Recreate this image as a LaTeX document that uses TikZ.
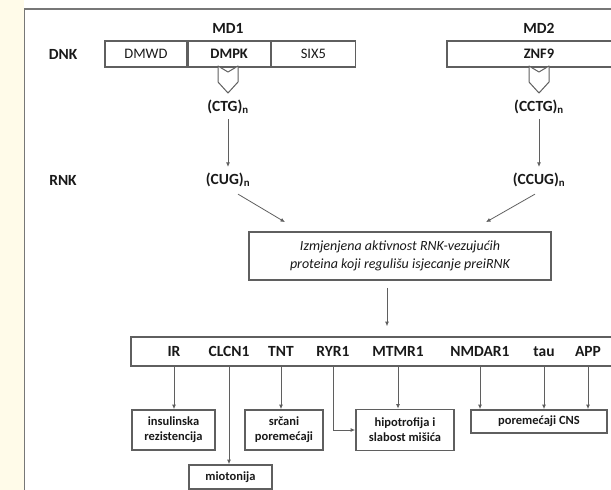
\documentclass[tikz,border=0pt]{standalone}
\usepackage{fontspec}
\setmainfont{Carlito}
\usetikzlibrary{arrows.meta, positioning, calc}
\definecolor{cLine}{RGB}{95,95,95}
\definecolor{cText}{RGB}{25,25,25}
\definecolor{cPaper}{RGB}{255,251,233}
\tikzset{
	lbl/.style     ={font=\fontsize{15.5}{18}\selectfont\bfseries, text=cText, inner sep=1pt},
	gene/.style    ={lbl, text height=11pt, text depth=3pt},
	genbox/.style  ={rectangle, draw=cLine, line width=1.2pt, minimum height=26pt, inner sep=0pt, text=cText, font=\fontsize{14.5}{17}\selectfont},
	mainbox/.style ={rectangle, draw=cLine, line width=1.8pt, minimum width=302pt, minimum height=48pt, align=center, text=cText, font=\fontsize{14}{18}\selectfont\itshape},
	effect/.style  ={rectangle, draw=cLine, line width=1.8pt, inner sep=0pt, align=center, text=cText, font=\fontsize{12.5}{15}\selectfont\bfseries},
	chev/.style    ={draw=cLine, fill=white, line width=1pt, line join=round},
	arr/.style     ={-{Latex[length=4.5pt,width=4pt]}, cLine, line width=0.8pt},
}

\begin{document}
\begin{tikzpicture}[x=1pt, y=-1pt]
	\useasboundingbox (0,0) rectangle (611,490);
	\clip (0,0) rectangle (611,490);
	\fill[cPaper] (0,0) rectangle (24,490);
	\draw[cLine!85, line width=1.3pt] (24.5,9) rectangle (660,540);
	% DNK row
	\node[lbl] (md1) at (228,28) {MD1};
	\node[lbl] (md2) at (539,28) {MD2};
	\node[lbl] (dnk) at (63,54) {DNK};
	\node[genbox, minimum width=82pt] (dmwd) at (146,54) {DMWD};
	\node[genbox, minimum width=82pt, font=\fontsize{14.5}{17}\selectfont\bfseries, right=0pt of dmwd] (dmpk) {DMPK};
	\node[genbox, minimum width=84pt, right=0pt of dmpk] (six5) {SIX5};
	\node[genbox, minimum width=184pt, font=\fontsize{14.5}{17}\selectfont\bfseries] (znf9) at (539,54) {ZNF9};
	\foreach \cx in {228,539}
		\draw[chev] (\cx-10,66) -- (\cx,72) -- (\cx+10,66) -- (\cx+10,82) -- (\cx,93) -- (\cx-10,82) -- cycle;
	\node[lbl] (ctg) at (228,107) {(CTG)\textsubscript{n}};
	\node[lbl] (cctg) at (539,107) {(CCTG)\textsubscript{n}};
	% RNK row
	\node[lbl] (rnk) at (63,180) {RNK};
	\node[lbl] (cug) at (228,180) {(CUG)\textsubscript{n}};
	\node[lbl] (ccug) at (539,180) {(CCUG)\textsubscript{n}};
	\draw[arr, shorten <=4pt, shorten >=5pt] (ctg) -- (cug);
	\draw[arr, shorten <=4pt, shorten >=5pt] (cctg) -- (ccug);
	\node[mainbox] (aktiv) at (400,256) {Izmjenjena aktivnost RNK-vezujućih\\proteina koji regulišu isjecanje preiRNK};
	\draw[arr] ([xshift=10pt, yshift=-6pt]cug.south) -- ([xshift=-115pt, yshift=9pt]aktiv.north);
	\draw[arr] ([xshift=-4pt, yshift=-6pt]ccug.south) -- ([xshift=86pt, yshift=9pt]aktiv.north);
	% genes
	\node[rectangle, draw=cLine, line width=1.6pt, minimum width=512pt, minimum height=29pt] (genes) at (387,351.5) {};
	\draw[arr, shorten <=7pt, shorten >=10pt] (aktiv.south -| genes.north) -- (genes.north);
	\foreach \n/\x/\t in {ir/174/IR, clcn/229/CLCN1, tnt/281/TNT, ryr/333/RYR1, mtmr/398/MTMR1, nmdar/480/NMDAR1, tau/544/tau, app/588/APP}
		\node[gene] (g\n) at (\x,352) {\t};
	% effects
	\node[effect, minimum width=83pt, minimum height=40pt] (ins) at (173.5,430) {insulinska\\rezistencija};
	\node[effect, minimum width=78pt, minimum height=40pt] (src) at (284,430) {srčani\\poremećaji};
	\node[effect, minimum width=98pt, minimum height=41pt] (hipo) at (405,430) {hipotrofija i\\slabost mišića};
	\node[effect, minimum width=136pt, minimum height=23pt] (cns) at (539,421.5) {poremećaji CNS};
	\node[effect, minimum width=83pt, minimum height=24pt] (mio) at (230.5,477) {miotonija};
	\draw[arr] (gir |- genes.south) -- (gir |- ins.north);
	\draw[arr] (gclcn |- genes.south) -- (gclcn |- mio.north);
	\draw[arr] (gtnt |- genes.south) -- (gtnt |- src.north);
	\draw[arr] (gryr |- genes.south) |- (hipo.west);
	\draw[arr] (gmtmr |- genes.south) -- (gmtmr |- hipo.north);
	\foreach \g in {gnmdar, gtau, gapp}
		\draw[arr] (\g |- genes.south) -- (\g |- cns.north);
\end{tikzpicture}
\end{document}
